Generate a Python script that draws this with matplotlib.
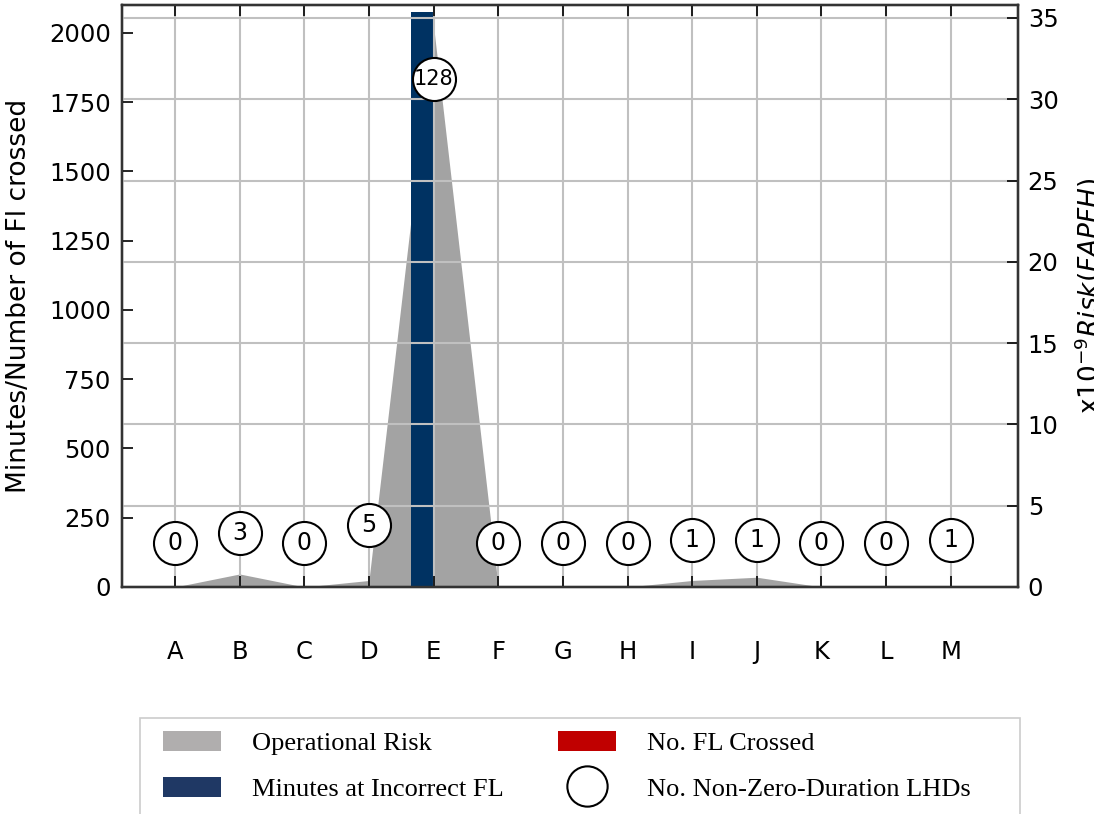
import numpy as np
import matplotlib.pyplot as plt
from matplotlib.patches import Patch, Rectangle
from matplotlib.lines import Line2D

categories = ["A", "B", "C", "D", "E", "F", "G", "H", "I", "J", "K", "L", "M"]
risk = [0, 0.8, 0, 0.4, 34.5, 0, 0, 0, 0.4, 0.6, 0, 0, 0]
minutes = [0, 0, 0, 0, 2075, 0, 0, 0, 0, 0, 0, 0, 0]
fl_crossed = [0, 5, 0, 5, 0, 0, 0, 0, 0, 0, 0, 0, 0]
lhd_count = [0, 3, 0, 5, 128, 0, 0, 0, 1, 1, 0, 0, 1]
left_ticks = [0, 250, 500, 750, 1000, 1250, 1500, 1750, 2000]
right_ticks = [0, 5, 10, 15, 20, 25, 30, 35]

left_max = 2101
right_max = 35.8

x = np.arange(len(categories))

fig = plt.figure(figsize=(10.94, 8.14), dpi=100)
ax2 = fig.add_axes([0.1115, 0.2789, 0.819, 0.715])
ax = ax2.twinx()
ax.set_zorder(ax2.get_zorder() + 1)
ax.patch.set_visible(False)
ax.xaxis.set_visible(True)

# grey risk area on the right axis
ax2.fill_between(x, risk, 0, color="#a3a3a3", lw=0)
ax2.set_ylim(0, right_max)
ax2.set_xlim(-0.82, 13.04)
ax2.set_yticks([])
ax.set_xlim(-0.82, 13.04)

# bars on the left axis (ax is drawn on top, moved to the left side)
ax.yaxis.tick_left()
ax.yaxis.set_label_position("left")
ax.bar(x - 0.175, minutes, width=0.35, color="#003262", zorder=1)
ax.bar(x, fl_crossed, width=0.35, color="#a00000", zorder=1)
ax.set_ylim(0, left_max)
ax.set_yticks(left_ticks)

# right axis ticks
ax3 = ax2.twinx()
ax3.set_ylim(0, right_max)
ax3.set_yticks(right_ticks)
ax3.set_zorder(ax.get_zorder() + 1)
ax3.patch.set_visible(False)
ax3.tick_params(axis="y", direction="in", length=8, width=1.2, labelsize=17.5, pad=7)
ax3.set_ylabel("x10$^{-9}$$Risk(FAPFH)$", fontsize=19, labelpad=10)

# grid: vertical at categories, horizontal at right-axis ticks
ax.set_xticks(x)
ax.set_xticklabels(categories)
ax.set_yticks(np.array(right_ticks) * left_max / right_max, minor=True)
ax.set_axisbelow(False)
ax.grid(axis="x", which="major", color="#c0c0c0", lw=1.5, zorder=2.5)
ax.grid(axis="y", which="minor", color="#c0c0c0", lw=1.5, zorder=2.5)
ax.tick_params(axis="y", which="minor", length=0)
ax.tick_params(axis="y", which="major", direction="in", length=8, width=1.2,
               labelsize=17.5, pad=8, right=False, left=True)
ax.tick_params(axis="x", direction="in", length=8, width=1.2, labelsize=17.5,
               pad=38, top=True, bottom=True)
ax2.tick_params(axis="x", length=0, labelbottom=False)
ax3.tick_params(axis="x", length=0, labelbottom=False)
ax.set_ylabel("Minutes/Number of Fl crossed", fontsize=19, labelpad=12)

# circled counts
label_y = 157 + 13.1 * np.array(lhd_count)
ax.scatter(x, label_y, s=960, facecolor="white", edgecolor="black", lw=1.5, zorder=5)
for xi, yi, n in zip(x, label_y, lhd_count):
    ax.text(xi, yi, str(n), ha="center", va="center",
            fontsize=17 if n < 100 else 15, zorder=6)

for a in (ax, ax2, ax3):
    for sp in a.spines.values():
        sp.set_color("#333333")
        sp.set_linewidth(1.6)

# legend box below the plot
fig.patches.append(Rectangle((140 / 1094, -0.02), 880 / 1094, 0.138,
                             transform=fig.transFigure, fill=False,
                             edgecolor="#cccccc", lw=1.2))
handles = [
    Patch(facecolor="#b0aeae", edgecolor="none"),
    Patch(facecolor="#1f3864", edgecolor="none"),
    Patch(facecolor="#c00000", edgecolor="none"),
    Line2D([], [], ls="none", marker="o", markersize=29, mfc="white", mec="black", mew=1.5),
]
labels = ["Operational Risk", "Minutes at Incorrect FL", "No. FL Crossed",
          "No. Non-Zero-Duration LHDs"]
fig.legend(handles, labels, loc="upper left", bbox_to_anchor=(163 / 1094, 1 - 731 / 814),
           ncol=2, prop={"family": "Liberation Serif", "size": 19},
           handlelength=2.2, handleheight=0.8, handletextpad=1.17, labelspacing=0.81,
           columnspacing=2.05, borderpad=0, borderaxespad=0, frameon=False)

fig.savefig("out.png", dpi=100)
